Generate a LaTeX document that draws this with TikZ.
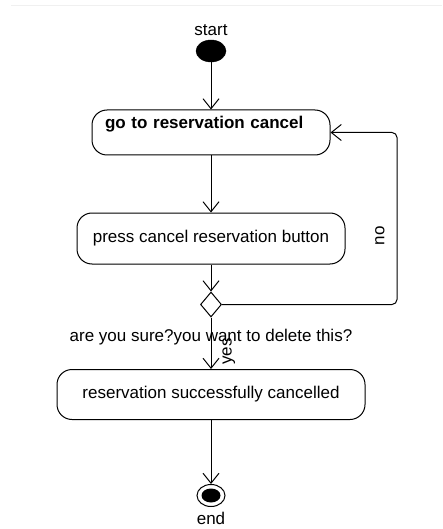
\documentclass[tikz,border=0pt]{standalone}
\usepackage{fontspec}
\setmainfont{Liberation Sans}
\usetikzlibrary{shapes.geometric, arrows.meta}
\tikzstyle{startnode} =
[
	ellipse
	, minimum width=30pt
	, minimum height=22pt
	, inner sep=0pt
	, draw=black
	, fill=black
]
\tikzstyle{stopnode} =
[
	ellipse
	, minimum width=28pt
	, minimum height=22pt
	, inner sep=0pt
	, draw=black
	, line width=1pt
	, fill=white
	, path picture={\fill[black] (path picture bounding box.center) ellipse (9.5pt and 7pt);}
]
\tikzstyle{activity} =
[
	rectangle
	, rounded corners=15pt
	, align=center
	, draw=black
	, line width=1pt
	, fill=white
]
\tikzstyle{decision} =
[
	diamond
	, minimum width=21pt
	, minimum height=25pt
	, inner sep=0pt
	, draw=black
	, line width=1pt
	, fill=white
]
\tikzstyle{arrow} = [line width=1pt, -{Straight Barb[length=10pt, width=16pt]}]
\begin{document}
\begin{tikzpicture}[x=1pt, y=1pt, node distance=90pt, every node/.style={font=\fontsize{17}{20}\selectfont}]
\useasboundingbox (0,0) rectangle (442,-529);
\draw[gray!12, line width=1pt] (11,-6) -- (442,-6);

\node(start)[startnode, label={[label distance=1pt]above:start}] at (211,-51) {};
\node(go)[activity, below of=start, yshift=8.5pt, text width=212pt, align=left, inner xsep=13pt, minimum height=45pt, text depth=20pt, font=\fontsize{17}{20}\selectfont\bfseries]{go to reservation cancel};
\node(press)[activity, below of=go, yshift=-16pt, minimum width=268pt, minimum height=51pt]{press cancel reservation button};
\node(dec)[decision, below of=press, yshift=24pt, label={[label distance=8pt]below:are you sure?you want to delete this?}]{};
\node(done)[activity, below of=dec, minimum width=308pt, minimum height=50pt]{reservation successfully cancelled};
\node(stop)[stopnode, below of=done, yshift=-11pt, label={[label distance=2pt]below:end}]{};

\draw[arrow](start)--(go);
\draw[arrow](go)--(press);
\draw[arrow](press)--(dec);
\draw[arrow](dec)--node(yes)[pos=0.66, anchor=north, rotate=90, inner ysep=11pt]{yes}(done);
\draw[arrow, rounded corners=5pt](dec.east)-- ++(175,0) |- node(no)[pos=0.2, anchor=south, rotate=90, inner ysep=12pt]{no}(go.east);
\draw[arrow](done)--(stop);

\end{tikzpicture}
\end{document}
